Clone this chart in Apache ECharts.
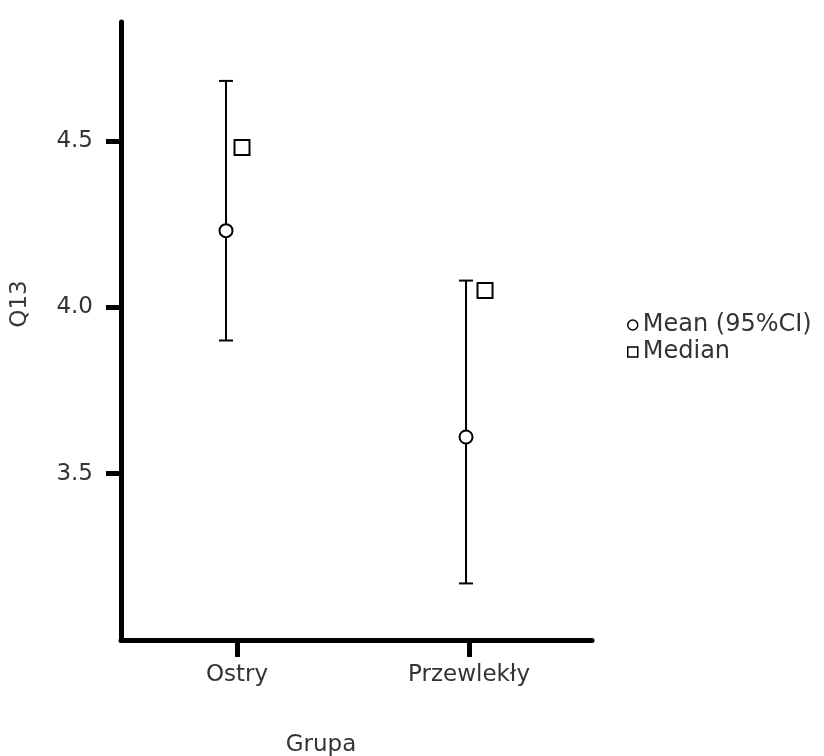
<!DOCTYPE html>
<html>
<head>
<meta charset="utf-8">
<script src="https://cdn.jsdelivr.net/npm/echarts@6/dist/echarts.min.js"></script>
<style>
  html, body { margin: 0; padding: 0; background: #ffffff; }
  #chart { width: 824px; height: 756px; }
</style>
</head>
<body>
<div id="chart"></div>
<script>
// Q13 by group: mean with 95% confidence interval, plus median
const categories = ['Ostry', 'Przewlekły'];
const meanValues = [4.23, 3.61];
const ciLower = [3.90, 3.17];
const ciUpper = [4.68, 4.08];
const medianValues = [4.48, 4.05];
const yTickValues = [3.5, 4.0, 4.5];

// small horizontal dodges (px) so the markers do not overlap
const meanDodge = [-11, -3];
const medianDodge = [5, 16];

const FONT = '"DejaVu Sans", "Noto Sans", sans-serif';
const TEXT = '#333333';

const chart = echarts.init(document.getElementById('chart'), null, { renderer: 'canvas' });

const meanData = categories.map((c, i) => [i, meanValues[i], ciLower[i], ciUpper[i]]);
const medianData = categories.map((c, i) => ({
  value: [i, medianValues[i]],
  symbolOffset: [medianDodge[i], 0]
}));

function renderMean(params, api) {
  const i = api.value(0);
  const dx = meanDodge[i];
  const pm = api.coord([i, api.value(1)]);
  const pl = api.coord([i, api.value(2)]);
  const ph = api.coord([i, api.value(3)]);
  const x = pm[0] + dx;
  const cap = 7;
  const stroke = { stroke: '#000', lineWidth: 2 };
  return {
    type: 'group',
    children: [
      { type: 'line', shape: { x1: x, y1: ph[1], x2: x, y2: pl[1] }, style: stroke },
      { type: 'line', shape: { x1: x - cap, y1: ph[1], x2: x + cap, y2: ph[1] }, style: stroke },
      { type: 'line', shape: { x1: x - cap, y1: pl[1], x2: x + cap, y2: pl[1] }, style: stroke },
      { type: 'circle', shape: { cx: x, cy: pm[1], r: 6.5 },
        style: { fill: '#fff', stroke: '#000', lineWidth: 2 }, z2: 10 }
    ]
  };
}

const option = {
  backgroundColor: '#ffffff',
  animation: false,
  grid: { left: 121, right: 232, top: 22, bottom: 116, containLabel: false },
  legend: {
    orient: 'vertical',
    left: 627,
    top: 313,
    padding: 0,
    itemWidth: 10,
    itemHeight: 10,
    itemGap: 3,
    textStyle: { fontFamily: FONT, fontSize: 24, color: TEXT },
    data: [
      { name: 'Mean (95%CI)', icon: 'circle',
        itemStyle: { color: '#fff', borderColor: '#000', borderWidth: 1.5 } },
      { name: 'Median', icon: 'rect',
        itemStyle: { color: '#fff', borderColor: '#000', borderWidth: 1.5 } }
    ]
  },
  xAxis: {
    type: 'value',
    min: -0.5,
    max: 1.53,
    splitLine: { show: false },
    axisLine: { show: true, onZero: false, lineStyle: { color: '#000', width: 5 } },
    axisTick: { show: true, length: 17, customValues: [0, 1],
      lineStyle: { color: '#000', width: 5 } },
    axisLabel: {
      customValues: [0, 1],
      formatter: v => categories[Math.round(v)] || '',
      margin: 24,
      fontFamily: FONT, fontSize: 23, color: TEXT
    }
  },
  yAxis: {
    type: 'value',
    min: 3.0,
    max: 4.857,
    splitLine: { show: false },
    axisLine: { show: true, onZero: false, lineStyle: { color: '#000', width: 5 } },
    axisTick: { show: true, length: 15, customValues: yTickValues,
      lineStyle: { color: '#000', width: 5 } },
    axisLabel: {
      customValues: yTickValues,
      formatter: v => v.toFixed(1),
      margin: 28,
      fontFamily: FONT, fontSize: 23, color: TEXT
    }
  },
  graphic: [
    { type: 'text', x: 20, y: 304, rotation: Math.PI / 2,
      style: { text: 'Q13', font: '23px ' + FONT, fill: '#3d3833',
        align: 'center', verticalAlign: 'middle' } },
    { type: 'text', x: 321, y: 745,
      style: { text: 'Grupa', font: '23px ' + FONT, fill: TEXT,
        align: 'center', verticalAlign: 'middle' } }
  ],
  series: [
    {
      name: 'Mean (95%CI)',
      type: 'custom',
      renderItem: renderMean,
      encode: { x: 0, y: [1, 2, 3] },
      data: meanData,
      z: 3
    },
    {
      name: 'Median',
      type: 'scatter',
      symbol: 'rect',
      symbolSize: 15,
      itemStyle: { color: '#fff', borderColor: '#000', borderWidth: 2, opacity: 1 },
      data: medianData,
      z: 4
    }
  ]
};

chart.setOption(option);
</script>
</body>
</html>
